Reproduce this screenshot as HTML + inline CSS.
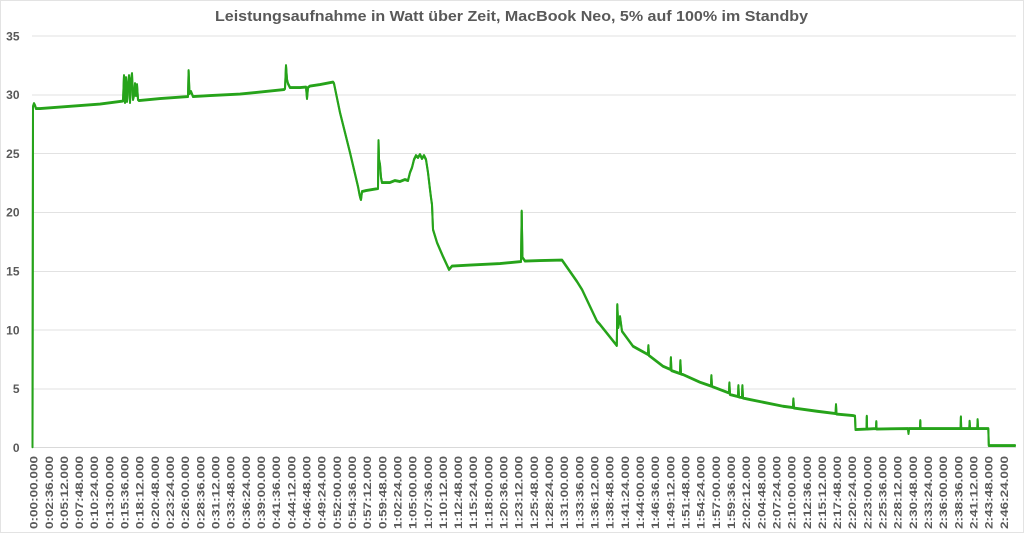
<!DOCTYPE html>
<html><head><meta charset="utf-8"><style>
html,body{margin:0;padding:0;background:#fff;}
svg{display:block;}
text{font-family:"Liberation Sans",Arial,sans-serif;fill:#595959;}
</style></head><body>
<svg width="1024" height="533" viewBox="0 0 1024 533" xmlns="http://www.w3.org/2000/svg" xmlns:xlink="http://www.w3.org/1999/xlink">
<rect x="0.5" y="0.5" width="1023" height="532" fill="#fff" stroke="#e3e3e3"/>
<text x="511.5" y="21" font-size="15" font-weight="bold" text-anchor="middle" textLength="593" lengthAdjust="spacingAndGlyphs">Leistungsaufnahme in Watt über Zeit, MacBook Neo, 5% auf 100% im Standby</text>
<g stroke="#e2e2e2" stroke-width="1">
<line x1="32" y1="36" x2="1016" y2="36"/>
<line x1="32" y1="95" x2="1016" y2="95"/>
<line x1="32" y1="153.5" x2="1016" y2="153.5"/>
<line x1="32" y1="212.5" x2="1016" y2="212.5"/>
<line x1="32" y1="271.5" x2="1016" y2="271.5"/>
<line x1="32" y1="330" x2="1016" y2="330"/>
<line x1="32" y1="389" x2="1016" y2="389"/>
<line x1="32" y1="447.5" x2="1016" y2="447.5" stroke="#d9d9d9"/>
</g>
<g font-size="12" font-weight="bold" text-anchor="end">
<text x="19.5" y="40.3">35</text>
<text x="19.5" y="99.1">30</text>
<text x="19.5" y="157.9">25</text>
<text x="19.5" y="216.7">20</text>
<text x="19.5" y="275.5">15</text>
<text x="19.5" y="334.3">10</text>
<text x="19.5" y="393.1">5</text>
<text x="19.5" y="451.9">0</text>
</g>
<g font-size="11" font-weight="bold" text-anchor="end">
<text transform="translate(37.6,456) rotate(-90)" textLength="73" lengthAdjust="spacingAndGlyphs">0:00:00.000</text>
<text transform="translate(52.76,456) rotate(-90)" textLength="73" lengthAdjust="spacingAndGlyphs">0:02:36.000</text>
<text transform="translate(67.92,456) rotate(-90)" textLength="73" lengthAdjust="spacingAndGlyphs">0:05:12.000</text>
<text transform="translate(83.08,456) rotate(-90)" textLength="73" lengthAdjust="spacingAndGlyphs">0:07:48.000</text>
<text transform="translate(98.24,456) rotate(-90)" textLength="73" lengthAdjust="spacingAndGlyphs">0:10:24.000</text>
<text transform="translate(113.4,456) rotate(-90)" textLength="73" lengthAdjust="spacingAndGlyphs">0:13:00.000</text>
<text transform="translate(128.56,456) rotate(-90)" textLength="73" lengthAdjust="spacingAndGlyphs">0:15:36.000</text>
<text transform="translate(143.72,456) rotate(-90)" textLength="73" lengthAdjust="spacingAndGlyphs">0:18:12.000</text>
<text transform="translate(158.88,456) rotate(-90)" textLength="73" lengthAdjust="spacingAndGlyphs">0:20:48.000</text>
<text transform="translate(174.04,456) rotate(-90)" textLength="73" lengthAdjust="spacingAndGlyphs">0:23:24.000</text>
<text transform="translate(189.2,456) rotate(-90)" textLength="73" lengthAdjust="spacingAndGlyphs">0:26:00.000</text>
<text transform="translate(204.36,456) rotate(-90)" textLength="73" lengthAdjust="spacingAndGlyphs">0:28:36.000</text>
<text transform="translate(219.52,456) rotate(-90)" textLength="73" lengthAdjust="spacingAndGlyphs">0:31:12.000</text>
<text transform="translate(234.68,456) rotate(-90)" textLength="73" lengthAdjust="spacingAndGlyphs">0:33:48.000</text>
<text transform="translate(249.84,456) rotate(-90)" textLength="73" lengthAdjust="spacingAndGlyphs">0:36:24.000</text>
<text transform="translate(265,456) rotate(-90)" textLength="73" lengthAdjust="spacingAndGlyphs">0:39:00.000</text>
<text transform="translate(280.16,456) rotate(-90)" textLength="73" lengthAdjust="spacingAndGlyphs">0:41:36.000</text>
<text transform="translate(295.32,456) rotate(-90)" textLength="73" lengthAdjust="spacingAndGlyphs">0:44:12.000</text>
<text transform="translate(310.48,456) rotate(-90)" textLength="73" lengthAdjust="spacingAndGlyphs">0:46:48.000</text>
<text transform="translate(325.64,456) rotate(-90)" textLength="73" lengthAdjust="spacingAndGlyphs">0:49:24.000</text>
<text transform="translate(340.8,456) rotate(-90)" textLength="73" lengthAdjust="spacingAndGlyphs">0:52:00.000</text>
<text transform="translate(355.96,456) rotate(-90)" textLength="73" lengthAdjust="spacingAndGlyphs">0:54:36.000</text>
<text transform="translate(371.12,456) rotate(-90)" textLength="73" lengthAdjust="spacingAndGlyphs">0:57:12.000</text>
<text transform="translate(386.28,456) rotate(-90)" textLength="73" lengthAdjust="spacingAndGlyphs">0:59:48.000</text>
<text transform="translate(401.44,456) rotate(-90)" textLength="73" lengthAdjust="spacingAndGlyphs">1:02:24.000</text>
<text transform="translate(416.6,456) rotate(-90)" textLength="73" lengthAdjust="spacingAndGlyphs">1:05:00.000</text>
<text transform="translate(431.76,456) rotate(-90)" textLength="73" lengthAdjust="spacingAndGlyphs">1:07:36.000</text>
<text transform="translate(446.92,456) rotate(-90)" textLength="73" lengthAdjust="spacingAndGlyphs">1:10:12.000</text>
<text transform="translate(462.08,456) rotate(-90)" textLength="73" lengthAdjust="spacingAndGlyphs">1:12:48.000</text>
<text transform="translate(477.24,456) rotate(-90)" textLength="73" lengthAdjust="spacingAndGlyphs">1:15:24.000</text>
<text transform="translate(492.4,456) rotate(-90)" textLength="73" lengthAdjust="spacingAndGlyphs">1:18:00.000</text>
<text transform="translate(507.56,456) rotate(-90)" textLength="73" lengthAdjust="spacingAndGlyphs">1:20:36.000</text>
<text transform="translate(522.72,456) rotate(-90)" textLength="73" lengthAdjust="spacingAndGlyphs">1:23:12.000</text>
<text transform="translate(537.88,456) rotate(-90)" textLength="73" lengthAdjust="spacingAndGlyphs">1:25:48.000</text>
<text transform="translate(553.04,456) rotate(-90)" textLength="73" lengthAdjust="spacingAndGlyphs">1:28:24.000</text>
<text transform="translate(568.2,456) rotate(-90)" textLength="73" lengthAdjust="spacingAndGlyphs">1:31:00.000</text>
<text transform="translate(583.36,456) rotate(-90)" textLength="73" lengthAdjust="spacingAndGlyphs">1:33:36.000</text>
<text transform="translate(598.52,456) rotate(-90)" textLength="73" lengthAdjust="spacingAndGlyphs">1:36:12.000</text>
<text transform="translate(613.68,456) rotate(-90)" textLength="73" lengthAdjust="spacingAndGlyphs">1:38:48.000</text>
<text transform="translate(628.84,456) rotate(-90)" textLength="73" lengthAdjust="spacingAndGlyphs">1:41:24.000</text>
<text transform="translate(644,456) rotate(-90)" textLength="73" lengthAdjust="spacingAndGlyphs">1:44:00.000</text>
<text transform="translate(659.16,456) rotate(-90)" textLength="73" lengthAdjust="spacingAndGlyphs">1:46:36.000</text>
<text transform="translate(674.32,456) rotate(-90)" textLength="73" lengthAdjust="spacingAndGlyphs">1:49:12.000</text>
<text transform="translate(689.48,456) rotate(-90)" textLength="73" lengthAdjust="spacingAndGlyphs">1:51:48.000</text>
<text transform="translate(704.64,456) rotate(-90)" textLength="73" lengthAdjust="spacingAndGlyphs">1:54:24.000</text>
<text transform="translate(719.8,456) rotate(-90)" textLength="73" lengthAdjust="spacingAndGlyphs">1:57:00.000</text>
<text transform="translate(734.96,456) rotate(-90)" textLength="73" lengthAdjust="spacingAndGlyphs">1:59:36.000</text>
<text transform="translate(750.12,456) rotate(-90)" textLength="73" lengthAdjust="spacingAndGlyphs">2:02:12.000</text>
<text transform="translate(765.28,456) rotate(-90)" textLength="73" lengthAdjust="spacingAndGlyphs">2:04:48.000</text>
<text transform="translate(780.44,456) rotate(-90)" textLength="73" lengthAdjust="spacingAndGlyphs">2:07:24.000</text>
<text transform="translate(795.6,456) rotate(-90)" textLength="73" lengthAdjust="spacingAndGlyphs">2:10:00.000</text>
<text transform="translate(810.76,456) rotate(-90)" textLength="73" lengthAdjust="spacingAndGlyphs">2:12:36.000</text>
<text transform="translate(825.92,456) rotate(-90)" textLength="73" lengthAdjust="spacingAndGlyphs">2:15:12.000</text>
<text transform="translate(841.08,456) rotate(-90)" textLength="73" lengthAdjust="spacingAndGlyphs">2:17:48.000</text>
<text transform="translate(856.24,456) rotate(-90)" textLength="73" lengthAdjust="spacingAndGlyphs">2:20:24.000</text>
<text transform="translate(871.4,456) rotate(-90)" textLength="73" lengthAdjust="spacingAndGlyphs">2:23:00.000</text>
<text transform="translate(886.56,456) rotate(-90)" textLength="73" lengthAdjust="spacingAndGlyphs">2:25:36.000</text>
<text transform="translate(901.72,456) rotate(-90)" textLength="73" lengthAdjust="spacingAndGlyphs">2:28:12.000</text>
<text transform="translate(916.88,456) rotate(-90)" textLength="73" lengthAdjust="spacingAndGlyphs">2:30:48.000</text>
<text transform="translate(932.04,456) rotate(-90)" textLength="73" lengthAdjust="spacingAndGlyphs">2:33:24.000</text>
<text transform="translate(947.2,456) rotate(-90)" textLength="73" lengthAdjust="spacingAndGlyphs">2:36:00.000</text>
<text transform="translate(962.36,456) rotate(-90)" textLength="73" lengthAdjust="spacingAndGlyphs">2:38:36.000</text>
<text transform="translate(977.52,456) rotate(-90)" textLength="73" lengthAdjust="spacingAndGlyphs">2:41:12.000</text>
<text transform="translate(992.68,456) rotate(-90)" textLength="73" lengthAdjust="spacingAndGlyphs">2:43:48.000</text>
<text transform="translate(1007.84,456) rotate(-90)" textLength="73" lengthAdjust="spacingAndGlyphs">2:46:24.000</text>
</g>
<g fill="none" stroke="#26a31a" stroke-linejoin="round" stroke-linecap="round" stroke-width="2">
<path id="p" d="M32.5,447.3 L33,107 L34,104 L35,106 L36,109 L40,109 L60,107.5 L80,106 L100,104.5 L123,101.5 L124,76 L125,103 L126,78 L127,102 L128,85 L129,76 L130,103 L131,80 L132,74 L133,100 L134,96 L135,84 L136,96 L137,85 L138,100 L139,101 L160,99 L188,97 L188.6,71 L189.5,94 L191,92 L193,97 L210,96 L240,94.5 L260,92.5 L284,90 L285,89 L286,66 L287,80 L288,84 L290,88 L300,88 L306,87.5 L307,99 L308,88 L310,86.5 L320,85 L333,82.5 L334,84 L340,113 L350,153 L358,187 L359.5,195 L360.5,199 L361,200 L362,192 L366,191 L372,190 L378,189 L378.5,141 L379,160 L380,165 L381,178 L382,183 L390,183 L395,181 L400,182 L405,180 L408,181 L410,173 L412,168 L414,160 L416,156 L418,158 L420,155 L422,159 L424,156 L426,160 L428,173 L430,190 L431,198 L432,205 L433,230 L437,243 L443,257 L449,270 L452,266.5 L470,265.5 L500,264 L521,262 L521.7,211.5 L522.5,258 L525,261.5 L540,261 L562,260.5 L577,282 L582,290 L597,321.7 L600,325 L616.8,346 L617.3,305 L618.3,328 L620,317 L622,331.7 L633,346.7 L648,355 L648.4,346 L649,356 L650,356.7 L663,366.7 L670.5,370 L670.9,358 L671.4,371 L680,374 L680.4,361 L681,374.5 L683,375 L700,382.7 L711,386.5 L711.4,376 L712,387 L729,393.5 L729.4,383.3 L730,395 L738,397 L738.4,386 L739,397.5 L742,398 L742.4,386 L743,398.5 L750,400 L783,406.7 L793,408 L793.4,399.3 L794,408.5 L817,411.7 L835.6,414 L836,405 L836.5,414.5 L853,416 L855,416.5 L855.5,430 L866.5,429.5 L866.8,416.7 L867.1,429.5 L876,429 L876.3,422 L876.6,429.5 L908,429 L908.5,434 L909,429 L920,429 L920.3,421 L920.6,429 L960.6,429 L960.9,417.3 L961.2,429 L969.3,429 L969.6,421.7 L970,429 L977.3,429 L977.6,420 L978,429 L988.3,429 L988.8,446 L1015,446"/>
<use xlink:href="#p" href="#p" transform="translate(0,-0.9)"/>
</g>
</svg>
</body></html>
